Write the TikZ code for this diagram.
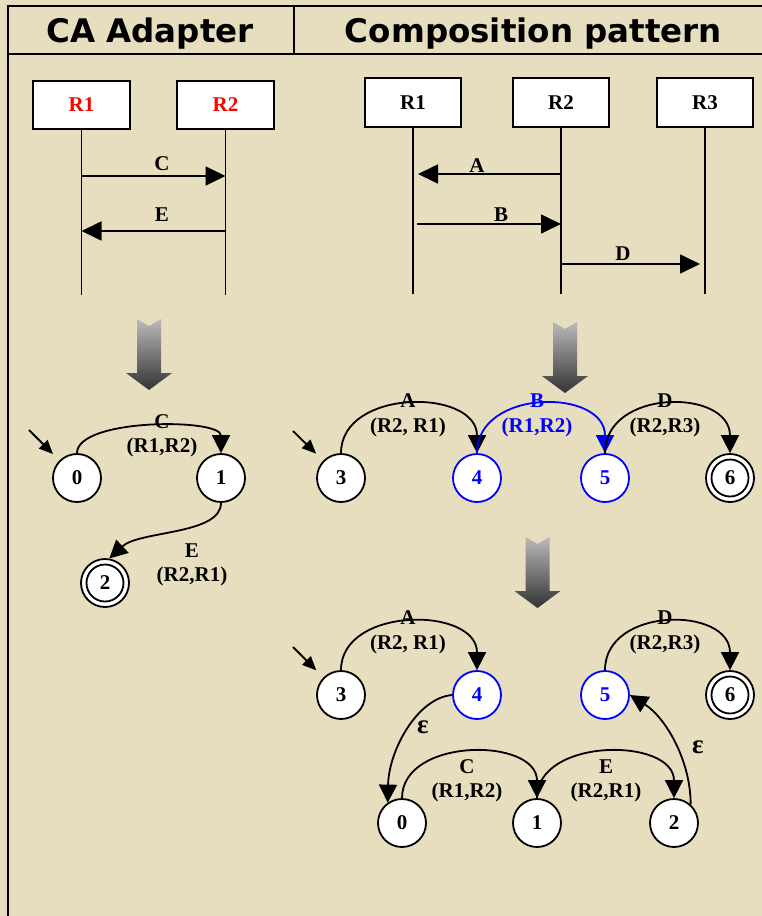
\documentclass[tikz,border=0pt]{standalone}
\usepackage{fontspec}
\setmainfont{Liberation Serif}
\newfontfamily\headfont{DejaVu Sans}
\usetikzlibrary{arrows.meta}

\definecolor{paper}{RGB}{230,222,190}
\newcommand{\lblfont}{\fontsize{21}{24}\selectfont\bfseries}

\tikzset{
  frame/.style={line width=2pt, draw=black},
  heading/.style={font=\headfont\fontsize{32.5}{36}\selectfont\bfseries, inner sep=0pt},
  actor/.style={rectangle, draw, fill=white, line width=1.8pt, minimum width=97pt,
                minimum height=48pt, inner sep=0pt, font=\lblfont},
  life/.style={line width=1.7pt},
  msg/.style={line width=1.7pt, -{Triangle[length=20pt,width=19pt]}},
  lbl/.style={font=\lblfont, inner sep=0pt},
  epslbl/.style={font=\fontsize{27}{30}\selectfont\bfseries, inner sep=0pt},
  state/.style={circle, draw, fill=white, line width=1.8pt, minimum size=48pt,
                inner sep=0pt, font=\lblfont},
  bstate/.style={state, draw=blue, text=blue},
  accept/.style={state, path picture={\draw[line width=1.8pt]
                 (path picture bounding box.center) circle (18.5pt);}},
  edge/.style={line width=1.8pt, -{Triangle[length=18pt,width=18pt]}},
  init/.style={line width=1.8pt, -{Triangle[length=14pt,width=12pt]}},
  down arrow/.pic={
    \shade[top color=black!27, bottom color=black!80]
      (-12,0) -- (0,7) -- (12,0) -- (12,54) -- (23,54) -- (0,71)
      -- (-23,54) -- (-12,54) -- cycle;}
}

\begin{document}
\begin{tikzpicture}[x=1pt,y=-1pt]
\fill[paper] (0,0) rectangle (762,916);
\useasboundingbox (0,0) rectangle (762,916);

% table frame and headings
\draw[frame] (762,6) -- (8,6) -- (8,916);
\draw[frame] (8,53.5) -- (762,53.5);
\draw[frame] (294,6) -- (294,53.5);
\node[heading, anchor=base] (h1) at (150,42.5) {CA Adapter};
\node[heading, anchor=base] (h2) at (533.5,42.5) {Composition pattern};

% ---- sequence chart of the adapter
\node[actor, text=red] (a1) at (81.5,105) {R1};
\node[actor, text=red] (a2) at (225.5,105) {R2};
\draw[life] (a1.south) -- (a1.south |- 0,295);
\draw[life] (a2.south) -- (a2.south |- 0,295);
\draw[msg] (a1.south |- 0,176) -- (a2.south |- 0,176);
\node[lbl] (mc) at (162,164) {C};
\draw[msg] (a2.south |- 0,231) -- (a1.south |- 0,231);
\node[lbl] (me) at (162,215) {E};

% ---- sequence chart of the composition
\node[actor, minimum height=49pt, minimum width=96pt] (b1) at (413,102.5) {R1};
\node[actor, minimum height=49pt, minimum width=96pt] (b2) at (561,102.5) {R2};
\node[actor, minimum height=49pt, minimum width=96pt] (b3) at (705,102.5) {R3};
\draw[life] (b1.south) -- (b1.south |- 0,294);
\draw[life] (b2.south) -- (b2.south |- 0,294);
\draw[life] (b3.south) -- (b3.south |- 0,294);
\draw[msg, shorten >=5pt] (b2.south |- 0,174) -- (b1.south |- 0,174);
\node[lbl] (ma) at (477,166) {A};
\draw[msg, shorten <=4pt] (b1.south |- 0,224) -- (b2.south |- 0,224);
\node[lbl] (mb) at (501,215) {B};
\draw[msg, shorten >=5pt] (b2.south |- 0,264) -- (b3.south |- 0,264);
\node[lbl] (md) at (623,254) {D};

% ---- derivation arrows
\pic at (149,319) {down arrow};
\pic at (565,322) {down arrow};
\pic at (537.5,537) {down arrow};

% ---- automaton of the adapter
\node[state] (l0) at (77,478) {0};
\node[state] (l1) at (221,478) {1};
\node[accept] (l2) at (105,583) {2};
\coordinate (l0in) at (29,430);
\draw[init, shorten >=9pt] (l0in) -- (l0);
\draw[edge] (l0.north) .. controls +(0,-35) and +(0,-35) .. (l1.north);
\node[lbl] (lc) at (162,422) {C};
\node[lbl] (lc2) at (162,447) {(R1,R2)};
\draw[edge] (l1.south) .. controls +(0,32) and +(30,-28) .. (l2.80);
\node[lbl] (le) at (192,551) {E};
\node[lbl] (le2) at (192,576) {(R2,R1)};

% ---- composed automaton
\node[state]  (q3) at (341,478) {3};
\node[bstate] (q4) at (477,478) {4};
\node[bstate] (q5) at (605,478) {5};
\node[accept] (q6) at (730,478) {6};
\coordinate (q3in) at (293,431);
\draw[init, shorten >=10pt] (q3in) -- (q3);
\draw[edge] (q3.north) .. controls +(0,-65) and +(0,-65) .. (q4.north);
\node[lbl] (qa) at (408,401) {A};
\node[lbl] (qa2) at (408,427) {(R2, R1)};
\draw[edge, color=blue] (q4.north) .. controls +(0,-65) and +(0,-65) .. (q5.north);
\node[lbl, text=blue] (qb) at (537,401) {B};
\node[lbl, text=blue] (qb2) at (537,427) {(R1,R2)};
\draw[edge] (q5.north) .. controls +(0,-65) and +(0,-65) .. (q6.north);
\node[lbl] (qd) at (665,401) {D};
\node[lbl] (qd2) at (665,427) {(R2,R3)};

% ---- adapted automaton
\node[state]  (r3) at (341,695) {3};
\node[bstate] (r4) at (477,695) {4};
\node[bstate] (r5) at (605,695) {5};
\node[accept] (r6) at (730,695) {6};
\node[state]  (p0) at (402,823) {0};
\node[state]  (p1) at (537,823) {1};
\node[state]  (p2) at (674,823) {2};
\coordinate (r3in) at (293,647);
\draw[init, shorten >=10pt] (r3in) -- (r3);
\draw[edge] (r3.north) .. controls +(0,-64) and +(0,-64) .. (r4.north);
\node[lbl] (ra) at (408,618) {A};
\node[lbl] (ra2) at (408,644) {(R2, R1)};
\draw[edge] (r5.north) .. controls +(0,-64) and +(0,-64) .. (r6.north);
\node[lbl] (rd) at (665,618) {D};
\node[lbl] (rd2) at (665,644) {(R2,R3)};
\draw[edge] (r4.west) .. controls +(-35,3) and +(1,-52) .. (p0.125);
\node[epslbl] (eps1) at (423,727) {ε};
\draw[edge] (p0.north) .. controls +(0,-61) and +(0,-61) .. (p1.north);
\node[lbl] (pc) at (467,767) {C};
\node[lbl] (pc2) at (467,792) {(R1,R2)};
\draw[edge] (p1.north) .. controls +(0,-61) and +(0,-61) .. (p2.north);
\node[lbl] (pe) at (606,767) {E};
\node[lbl] (pe2) at (606,792) {(R2,R1)};
\draw[edge] (p2.48) .. controls +(0,-45) and +(35,22) .. (r5.east);
\node[epslbl] (eps2) at (698,747) {ε};
\end{tikzpicture}
\end{document}
